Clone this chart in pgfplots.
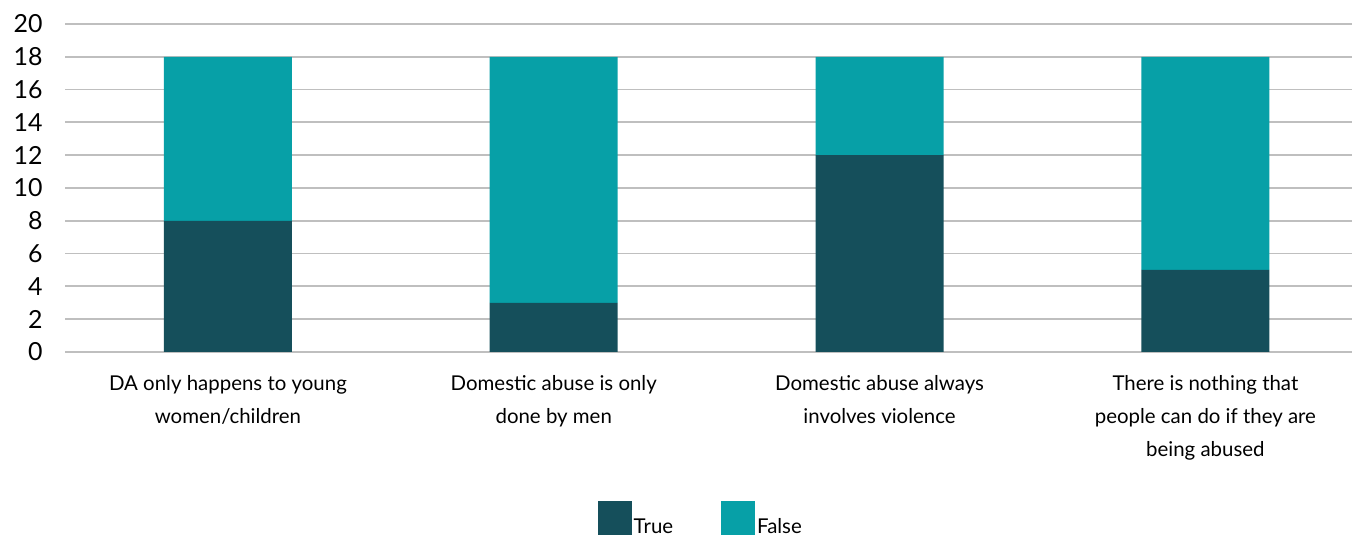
\documentclass[border=0pt]{standalone}
\usepackage{fontspec}
\setmainfont{Lato}
\usepackage{pgfplots}
\pgfplotsset{compat=1.18}
\definecolor{cTrue}{HTML}{154F5B}
\definecolor{cFalse}{HTML}{07A0A7}
\definecolor{cGrid}{HTML}{BFBFBF}
\begin{document}
\begin{tikzpicture}[x=1bp,y=1bp]
\useasboundingbox (0,0) rectangle (1361,536);
\begin{axis}[
  at={(65bp,184bp)}, anchor=south west,
  scale only axis, width=1287bp, height=328bp,
  ybar stacked, bar width=128bp,
  xmin=-0.5, xmax=3.45, ymin=0, ymax=20,
  ytick={0,2,...,20},
  xtick={0,1,2,3},
  xticklabels={{DA only happens to young\\women/children},{Domestic abuse is only\\done by men},{Domestic abuse always\\involves violence},{There is nothing that\\people can do if they are\\being abused}},
  xticklabel style={align=center, font=\fontsize{20.5}{33}\selectfont, yshift=-20bp},
  yticklabel style={font=\fontsize{25}{28}\selectfont, xshift=-19bp},
  /pgf/number format/assume math mode=true,
  axis line style={draw=none},
  major tick length=0pt,
  ymajorgrids, grid style={cGrid, line width=1.8bp},
  legend columns=2,
  legend style={draw=none, at={(0.494,-0.447)}, anchor=north, font=\fontsize{20.5}{22}\selectfont,
    /tikz/every even column/.append style={column sep=46bp}},
  legend image code/.code={\fill[#1] (0bp,-8bp) rectangle (34bp,26bp);},
]
\addplot[fill=cTrue, draw=none] coordinates {(0,8) (1,3) (2,12) (3,5)};
\addplot[fill=cFalse, draw=none] coordinates {(0,10) (1,15) (2,6) (3,13)};
\legend{True, False}
\end{axis}
\end{tikzpicture}
\end{document}
